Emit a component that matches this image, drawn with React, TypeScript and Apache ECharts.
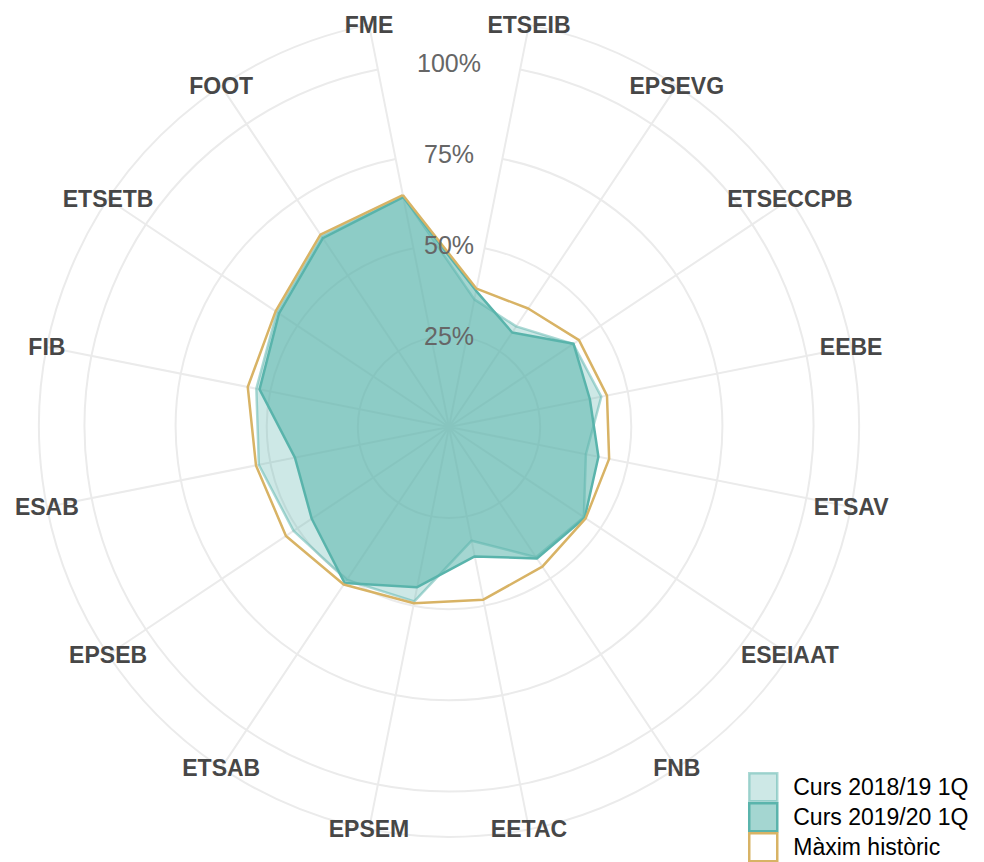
import React, { useEffect, useRef } from "react";
import * as echarts from "echarts";

const categories = ["FME", "FOOT", "ETSETB", "FIB", "ESAB", "EPSEB", "ETSAB", "EPSEM", "EETAC", "FNB", "ESEIAAT", "ETSAV", "EEBE", "ETSECCPB", "EPSEVG", "ETSEIB"];
const curs1819 = [64.6, 63.0, 56.8, 53.9, 53.2, 51.3, 50.5, 48.8, 31.8, 43.0, 44.5, 38.3, 42.6, 41.0, 33.2, 35.7];
const curs1920 = [64.3, 62.3, 56.1, 53.0, 43.1, 45.3, 51.5, 44.8, 36.2, 43.4, 44.8, 41.8, 39.4, 41.1, 31.2, 38.1];
const maxim = [64.9, 63.5, 57.2, 56.3, 54.0, 53.8, 52.0, 49.3, 48.3, 46.1, 45.1, 44.8, 44.2, 42.9, 39.1, 38.7];
const seriesNames = ["Curs 2018/19 1Q", "Curs 2019/20 1Q", "Màxim històric"];
const percentTicks = [25, 50, 75, 100];
const radiusMax = 112.5;

const legendStyles = [
  { color: "rgba(90,180,172,0.3)", borderColor: "rgba(90,180,172,0.5)", borderWidth: 2.5 },
  { color: "rgba(90,180,172,0.55)", borderColor: "#5ab4ac", borderWidth: 2.5 },
  { color: "#ffffff", borderColor: "#d8b365", borderWidth: 2.5 },
];

export default function App() {
  const ref = useRef<HTMLDivElement>(null);
  useEffect(() => {
    if (!ref.current) return;
    const chart = echarts.init(ref.current, null, { renderer: "svg" });
    const center = [449, 427];
    const radius = 410;
    const grid = "#ebebeb";
    const radarSeries = (name: string, values: number[], lineStyle: any, areaStyle: any, z: number) => ({
      name,
      type: "radar",
      radarIndex: 0,
      symbol: "none",
      z,
      itemStyle: { color: lineStyle.color },
      lineStyle,
      areaStyle,
      data: [{ name, value: values }],
    });
    chart.setOption({
      animation: false,
      backgroundColor: "#ffffff",
      polar: [
        { center, radius },
        { center, radius },
      ],
      radar: {
        center,
        radius,
        startAngle: 101.25,
        shape: "circle",
        indicator: categories.map((name) => ({ name, min: 0, max: radiusMax })),
        axisName: { show: false },
        axisLine: { show: false },
        axisTick: { show: false },
        axisLabel: { show: false },
        splitLine: { show: false },
        splitArea: { show: false },
      },
      angleAxis: [
        {
          polarIndex: 0,
          type: "category",
          data: categories,
          startAngle: 101.25,
          clockwise: false,
          boundaryGap: false,
          axisLine: { show: false },
          axisTick: { show: false },
          axisLabel: { show: false },
          splitLine: { show: true, lineStyle: { color: grid, width: 2 } },
        },
        {
          polarIndex: 1,
          type: "value",
          startAngle: 90,
          show: false,
        },
      ],
      radiusAxis: [
        {
          polarIndex: 0,
          type: "value",
          min: 0,
          max: radiusMax,
          interval: 25,
          axisLine: { show: false },
          axisTick: { show: false },
          axisLabel: { show: false },
          splitLine: { show: true, lineStyle: { color: grid, width: 2 } },
        },
        {
          polarIndex: 1,
          type: "value",
          min: 0,
          max: radiusMax,
          interval: 25,
          axisLine: { show: false },
          axisTick: { show: false },
          splitLine: { show: false },
          axisLabel: {
            show: true,
            margin: 0,
            align: "center",
            verticalAlign: "middle",
            fontSize: 25,
            fontFamily: "Liberation Sans, Arial, sans-serif",
            color: "#666666",
            formatter: (v: number) => (percentTicks.includes(v) ? v + "%" : ""),
          },
          z: 10,
        },
      ],
      legend: seriesNames.map((name, i) => ({
        orient: "vertical",
        left: 748,
        top: 772 + i * 30,
        padding: 0,
        itemWidth: 28,
        itemHeight: 28,
        textStyle: { fontSize: 23, color: "#000", fontFamily: "Liberation Sans, Arial, sans-serif", padding: [0, 0, 0, 11] },
        data: [{ name, icon: "rect", itemStyle: legendStyles[i] }],
      })),
      series: [
        radarSeries(seriesNames[0], curs1819, { color: "rgba(90,180,172,0.5)", width: 2.5 }, { color: "rgba(90,180,172,0.3)", opacity: 1 }, 2),
        radarSeries(seriesNames[1], curs1920, { color: "#5ab4ac", width: 2.5 }, { color: "rgba(90,180,172,0.55)", opacity: 1 }, 3),
        radarSeries(seriesNames[2], maxim, { color: "#d8b365", width: 2.5 }, undefined, 4),
        {
          name: "labels",
          type: "scatter",
          coordinateSystem: "polar",
          polarIndex: 0,
          clip: false,
          symbolSize: 1,
          itemStyle: { color: "rgba(0,0,0,0)" },
          data: categories.map((c, i) => ({ value: [radiusMax, i], name: c })),
          label: {
            show: true,
            position: "inside",
            formatter: "{b}",
            fontSize: 23,
            fontWeight: "bold",
            fontFamily: "Liberation Sans, Arial, sans-serif",
            color: "#474747",
            textBorderWidth: 0,
            opacity: 1,
          },
          silent: true,
          z: 5,
        },
      ],
    });
    return () => chart.dispose();
  }, []);
  return <div ref={ref} style={{ position: "fixed", left: 0, top: 0, width: 984, height: 862 }} />;
}
